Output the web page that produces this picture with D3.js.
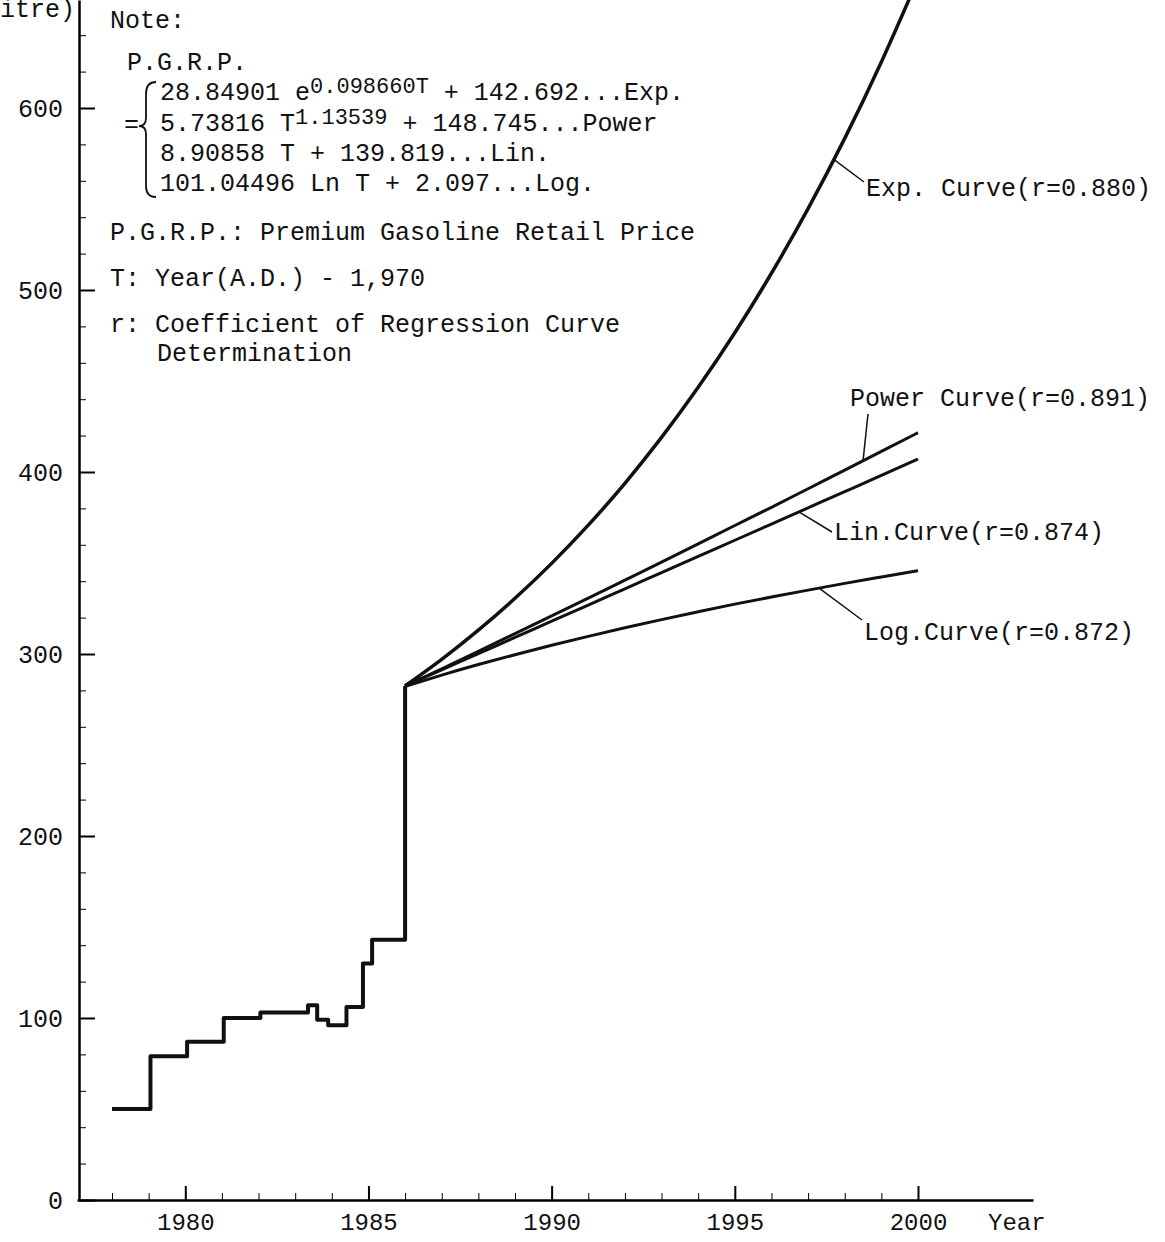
<!DOCTYPE html>
<html>
<head>
<meta charset="utf-8" />
<title>Premium Gasoline Retail Price</title>
<style>
    body { margin: 0; background: #fff; }
    svg text { font-family: "Liberation Mono", "Courier New", monospace; fill: #111; }
</style>
</head>
<body>
<svg></svg>
<script src="https://d3js.org/d3.v7.min.js"></script>
<script>

    // Observed price (step line)
    const stepYears = [1978.0, 1979.05, 1980.05, 1981.05, 1982.05, 1983.35, 1983.6, 1983.9, 1984.4, 1984.85, 1985.1, 1986.0];
    const stepPrices = [50, 79, 87, 100, 103, 107, 99, 96, 106, 130, 143, 282.4];

    // Regression curves, read at each year
    const curveYears = [1986, 1987, 1988, 1989, 1990, 1991, 1992, 1993, 1994, 1995, 1996, 1997, 1998, 1999, 2000];
    const expCurve = [282.5, 297.1, 313.1, 330.6, 349.8, 370.8, 393.8, 419.0, 446.5, 476.5, 509.2, 544.7, 583.3, 625.3, 670.9];
    const powerCurve = [282.4, 291.9, 301.5, 311.2, 320.9, 330.7, 340.6, 350.5, 360.5, 370.6, 380.6, 390.8, 401.0, 411.3, 421.6];
    const linCurve = [282.4, 291.3, 300.2, 309.1, 318.0, 326.9, 335.8, 344.7, 353.6, 362.5, 371.4, 380.3, 389.2, 398.1, 407.1];
    const logCurve = [282.2, 288.4, 294.2, 299.6, 304.8, 309.7, 314.4, 318.9, 323.2, 327.4, 331.3, 335.1, 338.8, 342.3, 345.8];

    const curveNames = ["Exp. Curve(r=0.880)", "Power Curve(r=0.891)", "Lin.Curve(r=0.874)", "Log.Curve(r=0.872)"];
    const labelYears = [1997.7, 1998.5, 1996.75, 1997.3];

    // Axis ticks
    const xMajorTicks = [1980, 1985, 1990, 1995, 2000];
    const xMinorTicks = d3.range(1978, 2001);
    const yMajorTicks = [0, 100, 200, 300, 400, 500, 600];
    const yMinorTicks = d3.range(0, 660, 20);

    const width = 1165, height = 1242;

    const svg = d3.select("svg")
        .attr("width", width)
        .attr("height", height);

    svg.append("rect").attr("width", width).attr("height", height).attr("fill", "#fff");

    let x = d3.scaleLinear().domain([1978, 2000]).range([112, 918]);
    let y = d3.scaleLinear().domain([0, 600]).range([1200, 108]);

    // scales that only stretch the axis lines to the plot edges
    let xLine = x.copy().domain([x.invert(77), x.invert(1033)]).range([77, 1033]);
    let yLine = y.copy().domain([0, y.invert(0)]).range([1200, 0]);

    // x axis: minor then major ticks, pointing up
    svg.append("g")
        .attr("transform", "translate(0,1200)")
        .call(d3.axisBottom(xLine).tickValues(xMinorTicks).tickSize(-7).tickSizeOuter(0).tickFormat(""))
        .call(g => g.select(".domain").attr("stroke-width", 2.5));

    svg.append("g")
        .attr("transform", "translate(0,1200)")
        .call(d3.axisBottom(xLine).tickValues(xMajorTicks).tickSize(-14).tickSizeOuter(0).tickPadding(13).tickFormat(d3.format("d")))
        .call(g => g.select(".domain").remove())
        .call(g => g.selectAll("line").attr("stroke-width", 2))
        .call(g => g.selectAll("text").attr("font-size", 24).attr("fill", "#111"));

    svg.append("text")
        .attr("x", 988).attr("y", 1230)
        .attr("font-size", 24)
        .text("Year");

    // y axis: ticks pointing right
    svg.append("g")
        .attr("transform", "translate(79,0)")
        .call(d3.axisLeft(yLine).tickValues(yMinorTicks).tickSize(-7).tickSizeOuter(0).tickFormat(""))
        .call(g => g.select(".domain").attr("stroke-width", 2.5));

    svg.append("g")
        .attr("transform", "translate(79,0)")
        .call(d3.axisLeft(yLine).tickValues(yMajorTicks).tickSize(-16).tickSizeOuter(0).tickPadding(16))
        .call(g => g.select(".domain").remove())
        .call(g => g.selectAll("line").attr("stroke-width", 2))
        .call(g => g.selectAll("text").attr("font-size", 25).attr("fill", "#111"));

    // unit label, cut by the top-left edge as in the scan
    svg.append("text")
        .attr("x", 75).attr("y", 17)
        .attr("text-anchor", "end")
        .attr("font-size", 25)
        .text("(Yen/Litre)");

    // observed price
    let stepLine = d3.line()
        .x((d, i) => x(stepYears[i]))
        .y(d => y(d))
        .curve(d3.curveStepAfter);

    svg.append("path")
        .datum(stepPrices)
        .attr("d", stepLine)
        .attr("fill", "none")
        .attr("stroke", "#111")
        .attr("stroke-width", 4)
        .attr("stroke-linejoin", "round");

    // regression curves
    let curveLine = d3.line()
        .x((d, i) => x(curveYears[i]))
        .y(d => y(d))
        .curve(d3.curveNatural);

    const curves = [expCurve, powerCurve, linCurve, logCurve];

    svg.append("g")
        .selectAll("path")
        .data(curves)
        .enter()
        .append("path")
        .attr("d", curveLine)
        .attr("fill", "none")
        .attr("stroke", "#111")
        .attr("stroke-width", (d, i) => i == 0 ? 3.5 : 3);

    // value on a curve between the read years
    function valueAt(vals, yr) {
        let i = Math.min(Math.floor(yr - curveYears[0]), vals.length - 2);
        let t = yr - curveYears[i];
        return vals[i] + (vals[i + 1] - vals[i]) * t;
    }

    // curve labels with leader lines
    const labelPos = [[866, 196], [850, 406], [834, 540], [864, 640]];
    const leaderEnd = [[864, 182], [868, 414], [832, 532], [862, 620]];

    curves.forEach((c, i) => {
        svg.append("line")
            .attr("x1", x(labelYears[i]))
            .attr("y1", y(valueAt(c, labelYears[i])))
            .attr("x2", leaderEnd[i][0])
            .attr("y2", leaderEnd[i][1])
            .attr("stroke", "#111")
            .attr("stroke-width", 1.5);

        svg.append("text")
            .attr("x", labelPos[i][0])
            .attr("y", labelPos[i][1])
            .attr("font-size", 25)
            .text(curveNames[i]);
    });

    // Note block
    let note = svg.append("g").attr("font-size", 25);

    note.append("text").attr("x", 110).attr("y", 28).text("Note:");
    note.append("text").attr("x", 127).attr("y", 70).text("P.G.R.P.");

    let eq1 = note.append("text").attr("x", 160).attr("y", 100);
    eq1.append("tspan").text("28.84901 e");
    eq1.append("tspan").attr("dy", -7).attr("font-size", 22).text("0.098660T");
    eq1.append("tspan").attr("dy", 7).text(" + 142.692...Exp.");

    let eq2 = note.append("text").attr("x", 160).attr("y", 131);
    eq2.append("tspan").text("5.73816 T");
    eq2.append("tspan").attr("dy", -7).attr("font-size", 22).text("1.13539");
    eq2.append("tspan").attr("dy", 7).text(" + 148.745...Power");

    note.append("text").attr("x", 160).attr("y", 161).text("8.90858 T + 139.819...Lin.");
    note.append("text").attr("x", 160).attr("y", 191).text("101.04496 Ln T + 2.097...Log.");

    note.append("text").attr("x", 124).attr("y", 132).text("=");

    // brace
    let b = d3.path();
    b.moveTo(156, 82);
    b.quadraticCurveTo(146, 82, 146, 94);
    b.lineTo(146, 118);
    b.quadraticCurveTo(146, 126, 139, 126);
    b.quadraticCurveTo(146, 126, 146, 134);
    b.lineTo(146, 186);
    b.quadraticCurveTo(146, 197, 156, 197);
    note.append("path")
        .attr("d", b.toString())
        .attr("fill", "none")
        .attr("stroke", "#111")
        .attr("stroke-width", 1.8);

    note.append("text").attr("x", 110).attr("y", 240).text("P.G.R.P.: Premium Gasoline Retail Price");
    note.append("text").attr("x", 110).attr("y", 286).text("T: Year(A.D.) - 1,970");
    note.append("text").attr("x", 110).attr("y", 332).text("r: Coefficient of Regression Curve");
    note.append("text").attr("x", 157).attr("y", 361).text("Determination");

</script>
</body>
</html>
